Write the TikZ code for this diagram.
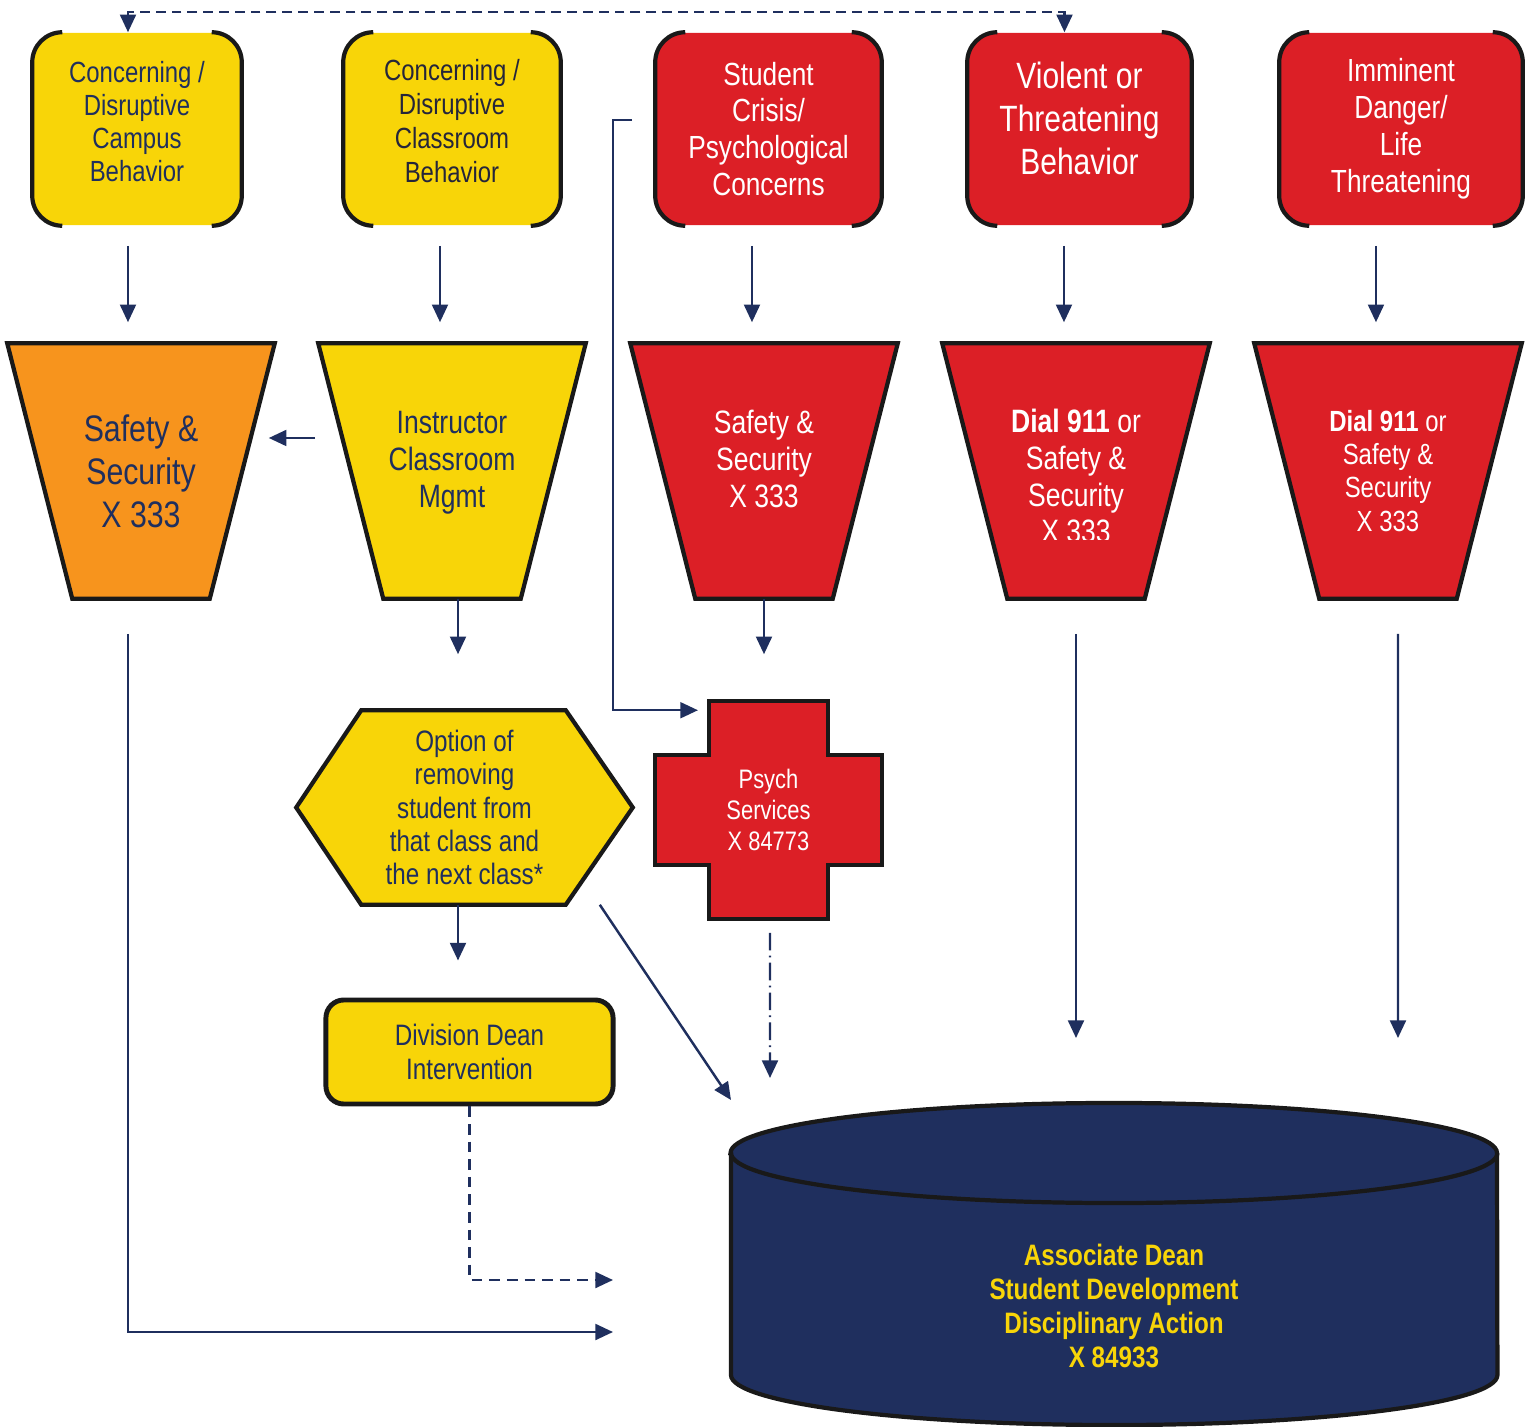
\documentclass[tikz,border=0pt]{standalone}
\usepackage{fontspec}
\setmainfont{Liberation Sans}[FakeStretch=0.82]
\usetikzlibrary{arrows.meta,backgrounds}

\definecolor{boxyellow}{HTML}{F8D508}
\definecolor{boxorange}{HTML}{F7941D}
\definecolor{boxred}{HTML}{DC1F26}
\definecolor{deannavy}{HTML}{1F2F5E}
\definecolor{darktext}{HTML}{25253A}
\newcommand{\setfs}[2]{\fontsize{#1pt}{#2pt}\selectfont}

\tikzset{
  topbox/.style={rectangle, rounded corners=0.3cm, minimum height=1.92cm, inner sep=0pt, align=center},
  funnel/.style={rectangle, minimum width=2.66cm, minimum height=2.54cm, inner sep=0pt, align=center},
  shapeline/.style={draw=black!90, line width=1.2pt, line join=miter},
  link/.style={draw=deannavy, line width=0.7pt, >={Triangle[length=5pt,width=4.5pt]}, ->},
}

\begin{document}
\begin{tikzpicture}[x=0.01cm, y=0.01cm]
    \useasboundingbox (0,0) rectangle (1532,-1427);

    % top row
    \node [topbox, fill=boxyellow, minimum width=2.08cm, text depth=0.15cm, text=deannavy, font=\setfs{8.3}{9.4}] (campus) at (137,-129) {Concerning /\\Disruptive\\Campus\\Behavior};
    \node [topbox, fill=boxyellow, minimum width=2.16cm, text depth=0.16cm, text=darktext, font=\setfs{8.3}{9.7}] (classroom) at (452,-129) {Concerning /\\Disruptive\\Classroom\\Behavior};
    \node [topbox, fill=boxred, minimum width=2.25cm, text=white, font=\setfs{9.1}{10.5}] (crisis) at (768.5,-129) {Student\\Crisis/\\Psychological\\Concerns};
    \node [topbox, fill=boxred, minimum width=2.23cm, text depth=0.21cm, text=white, font=\setfs{10.4}{12.2}] (violent) at (1079.5,-129) {Violent or\\Threatening\\Behavior};
    \node [topbox, fill=boxred, minimum width=2.42cm, text=white, font=\setfs{9.1}{10.5}] (danger) at (1401,-129) {Imminent\\Danger/\\Life\\Threatening};

    \foreach \n in {campus,classroom,crisis,violent,danger} {
        \draw [line width=1.2pt, black!90] ([xshift=0.3cm]\n.north west) arc [start angle=90, end angle=180, radius=0.3cm] -- ([yshift=0.3cm]\n.south west) arc [start angle=180, end angle=270, radius=0.3cm];
        \draw [line width=1.2pt, black!90] ([xshift=-0.3cm]\n.north east) arc [start angle=90, end angle=0, radius=0.3cm] -- ([yshift=0.3cm]\n.south east) arc [start angle=0, end angle=-90, radius=0.3cm];
    }

    % funnels
    \node [funnel, text=deannavy, font=\setfs{10.5}{12.2}] (secA) at (141,-471) {Safety \&\\Security\\X 333};
    \node [funnel, text depth=0.23cm, text=deannavy, font=\setfs{9.2}{10.5}] (instr) at (452,-471) {Instructor\\Classroom\\Mgmt};
    \node [funnel, text depth=0.24cm, text=white, font=\setfs{9.2}{10.5}] (secB) at (764,-471) {Safety \&\\Security\\X 333};
    \node [funnel] (dialA) at (1076,-471) {};
    \begin{scope}
        \clip (943,-330) rectangle (1209,-539);
        \node [text=white, align=center, font=\setfs{9.2}{10.5}] (dialAtext) at (1076,-476) {\textbf{Dial 911} or\\Safety \&\\Security\\X 333};
    \end{scope}
    \node [funnel, text=white, font=\setfs{8.3}{9.4}] (dialB) at (1388,-471) {\textbf{Dial 911} or\\Safety \&\\Security\\X 333};

    % middle and bottom
    \node [rectangle, minimum width=3.35cm, minimum height=1.93cm, inner sep=0pt, align=center, text=deannavy, font=\setfs{8.4}{9.5}] (option) at (464.5,-807.5) {Option of\\removing\\student from\\that class and\\the next class*};
    \node [rectangle, minimum width=2.25cm, minimum height=2.16cm, inner sep=0pt, align=center, text=white, font=\setfs{7.6}{8.8}] (psych) at (768.5,-810) {Psych\\Services\\X 84773};
    \node [rectangle, rounded corners=0.18cm, draw=black!90, line width=1.4pt, fill=boxyellow, minimum width=2.87cm, minimum height=1.04cm, align=center, text=deannavy, font=\setfs{8.4}{9.7}] (division) at (469.5,-1052) {Division Dean\\Intervention};
    \node [align=center, text=boxyellow, font=\bfseries\setfs{8.4}{9.6}] (assoc) at (1114,-1306) {Associate Dean\\Student Development\\Disciplinary Action\\X 84933};

    % shapes behind the texts
    \begin{scope}[on background layer]
        \foreach \n/\c in {secA/boxorange, instr/boxyellow, secB/boxred, dialA/boxred, dialB/boxred}
            \filldraw [shapeline, fill=\c] (\n.north west) -- (\n.north east) -- ([xshift=-0.65cm]\n.south east) -- ([xshift=0.65cm]\n.south west) -- cycle;
        \filldraw [shapeline, fill=boxyellow] (option.west) -- ([xshift=0.65cm]option.north west) -- ([xshift=-0.67cm]option.north east) -- (option.east) -- ([xshift=-0.67cm]option.south east) -- ([xshift=0.65cm]option.south west) -- cycle;
        \def\arm{0.535cm}
        \filldraw [shapeline, fill=boxred] ([xshift=\arm]psych.north west) -- ([xshift=-\arm]psych.north east) -- ([xshift=-\arm, yshift=-\arm]psych.north east) -- ([yshift=-\arm]psych.north east) -- ([yshift=\arm]psych.south east) -- ([xshift=-\arm, yshift=\arm]psych.south east) -- ([xshift=-\arm]psych.south east) -- ([xshift=\arm]psych.south west) -- ([xshift=\arm, yshift=\arm]psych.south west) -- ([yshift=\arm]psych.south west) -- ([yshift=-\arm]psych.north west) -- ([xshift=\arm, yshift=-\arm]psych.north west) -- cycle;
        \filldraw [shapeline, fill=deannavy] (731,-1153) -- (731,-1375) arc [start angle=180, end angle=360, x radius=3.83cm, y radius=0.5cm] -- (1497,-1153) arc [start angle=0, end angle=180, x radius=3.83cm, y radius=0.5cm] -- cycle;
        \draw [shapeline] (731,-1153) arc [start angle=180, end angle=360, x radius=3.83cm, y radius=0.5cm];
    \end{scope}

    % free ends at the cylinder
    \coordinate (inDiag) at (731,-1100);
    \coordinate (inDot) at (770,-1078);
    \coordinate (inDash) at (613,-1280);
    \coordinate (inSolid) at (613,-1332);
    \coordinate (inA) at (1076,-1038);
    \coordinate (inB) at (1398,-1038);

    % connectors
    \foreach \a/\b/\s in {campus/secA/-0.09, classroom/instr/-0.12, crisis/secB/-0.165, violent/dialA/-0.155, danger/dialB/-0.25}
        \draw [link, shorten <=0.2cm, shorten >=0.21cm] ([xshift=\s cm]\a.south) -- ([xshift=\s cm]\a.south |- \b.north);
    \draw [link, <->, dash pattern=on 2.8pt off 1.7pt] ([xshift=-0.15cm]violent.north) -- ++(0,0.2cm) -| ([xshift=-0.09cm]campus.north);
    \draw [link] ([xshift=-0.03cm, yshift=0.33cm]instr.west) -- ([xshift=-0.06cm, yshift=0.33cm]secA.east);
    \draw [link, shorten >=0.56cm] ([xshift=0.06cm]instr.south) -- ([xshift=0.06cm]instr.south |- option.north);
    \draw [link, shorten >=0.47cm] (secB.south) -- (secB.south |- psych.north);
    \draw [link] ([xshift=-0.23cm, yshift=0.09cm]crisis.west) -- ++(-0.19cm,0) |- ([xshift=-0.705cm, yshift=-0.09cm]psych.north);
    \draw [link, shorten >=0.37cm] ([xshift=-0.065cm]option.south) -- ([xshift=-0.065cm]option.south |- division.north);
    \draw [link] ([xshift=-0.33cm]option.south east) -- (inDiag);
    \draw [link, dash pattern=on 5pt off 1.5pt on 0.5pt off 1.5pt] ([xshift=0.015cm, yshift=-0.14cm]psych.south) -- (inDot);
    \draw [link, dash pattern=on 3pt off 2pt] (division.south) |- (inDash);
    \draw [link] ([xshift=-0.13cm, yshift=-0.35cm]secA.south) |- (inSolid);
    \draw [link] ([yshift=-0.35cm]dialA.south) -- (inA);
    \draw [link] ([xshift=0.1cm, yshift=-0.35cm]dialB.south) -- (inB);
\end{tikzpicture}
\end{document}
